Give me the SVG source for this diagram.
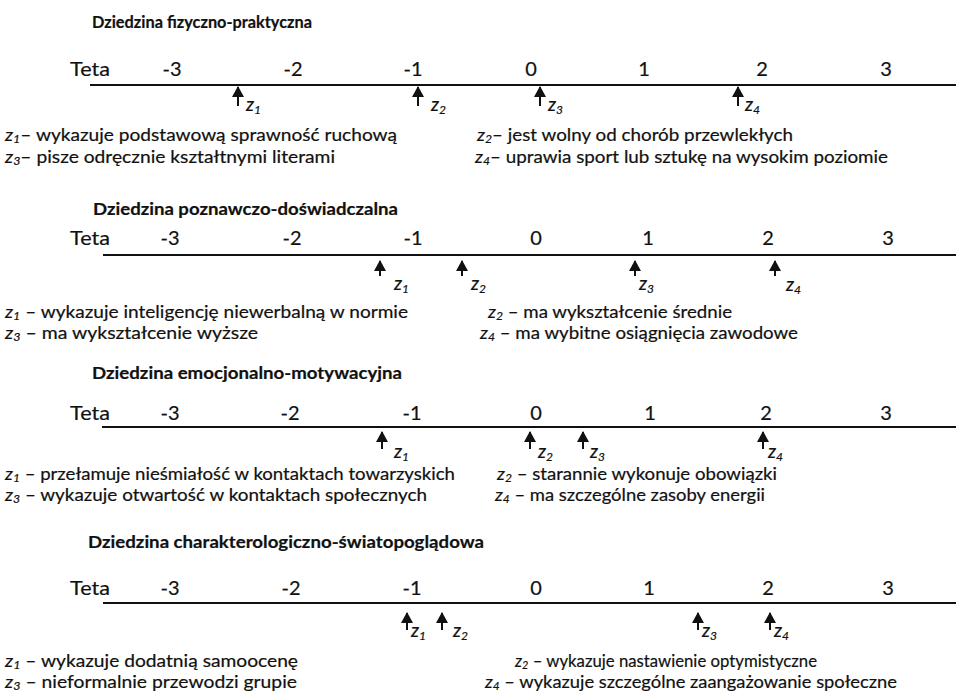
<svg xmlns="http://www.w3.org/2000/svg" width="956" height="693" viewBox="0 0 956 693">
<defs>
<style>
text{font-family:Lato,"Open Sans","Liberation Sans",sans-serif;fill:#111;stroke:#111;stroke-width:0.2px}
.t{font-size:17px;font-weight:bold}
.n{font-size:20px;text-anchor:middle}
.tt{font-size:20px}
.d{font-size:17px}
.i{font-style:italic}
.s{font-style:italic;font-size:11px}
.zl{font-size:19px;font-style:italic}
.zs{font-size:12px;font-style:italic}
.ax{stroke:#111;stroke-width:2;fill:none}
.ar{stroke:#111;stroke-width:2;fill:none}
</style>
<marker id="ah" viewBox="0 0 11 12" refX="10" refY="6" markerWidth="11" markerHeight="12" markerUnits="userSpaceOnUse" orient="auto"><path d="M0,0 L11,6 L0,12 z" fill="#111"/></marker>
</defs>
<rect width="956" height="693" fill="#fff"/>

<g id="connectors">
<line class="ax" x1="90" y1="85" x2="956" y2="85"/>
<line class="ar" x1="238" y1="106" x2="238" y2="87" marker-end="url(#ah)"/>
<line class="ar" x1="418" y1="106" x2="418" y2="87" marker-end="url(#ah)"/>
<line class="ar" x1="540" y1="106" x2="540" y2="87" marker-end="url(#ah)"/>
<line class="ar" x1="738" y1="106" x2="738" y2="87" marker-end="url(#ah)"/>

<line class="ax" x1="103" y1="255" x2="956" y2="255"/>
<line class="ar" x1="380" y1="276" x2="380" y2="261" marker-end="url(#ah)"/>
<line class="ar" x1="462" y1="276" x2="462" y2="261" marker-end="url(#ah)"/>
<line class="ar" x1="635" y1="276" x2="635" y2="261" marker-end="url(#ah)"/>
<line class="ar" x1="775" y1="276" x2="775" y2="261" marker-end="url(#ah)"/>

<line class="ax" x1="102" y1="427" x2="956" y2="427"/>
<line class="ar" x1="382" y1="449" x2="382" y2="432" marker-end="url(#ah)"/>
<line class="ar" x1="530" y1="449" x2="530" y2="432" marker-end="url(#ah)"/>
<line class="ar" x1="583" y1="449" x2="583" y2="432" marker-end="url(#ah)"/>
<line class="ar" x1="763" y1="449" x2="763" y2="432" marker-end="url(#ah)"/>

<line class="ax" x1="103" y1="603" x2="956" y2="603"/>
<line class="ar" x1="407" y1="630" x2="407" y2="613" marker-end="url(#ah)"/>
<line class="ar" x1="442" y1="630" x2="442" y2="613" marker-end="url(#ah)"/>
<line class="ar" x1="698" y1="630" x2="698" y2="613" marker-end="url(#ah)"/>
<line class="ar" x1="770" y1="630" x2="770" y2="613" marker-end="url(#ah)"/>
</g>

<g id="section1">
<text class="t" x="92" y="28" textLength="220" lengthAdjust="spacingAndGlyphs">Dziedzina fizyczno-praktyczna</text>
<text class="tt" x="70" y="76" textLength="40" lengthAdjust="spacingAndGlyphs">Teta</text>
<text class="n" x="172" y="76">-3</text>
<text class="n" x="293" y="76">-2</text>
<text class="n" x="413" y="76">-1</text>
<text class="n" x="531" y="76">0</text>
<text class="n" x="644" y="76">1</text>
<text class="n" x="762" y="76">2</text>
<text class="n" x="886" y="76">3</text>
<text class="zl" x="246" y="111">z<tspan class="zs" dy="3">1</tspan></text>
<text class="zl" x="431" y="111">z<tspan class="zs" dy="3">2</tspan></text>
<text class="zl" x="548" y="111">z<tspan class="zs" dy="3">3</tspan></text>
<text class="zl" x="745" y="111">z<tspan class="zs" dy="3">4</tspan></text>
<text class="d" x="5" y="141" textLength="392" lengthAdjust="spacingAndGlyphs"><tspan class="i">z</tspan><tspan class="s" dy="2">1</tspan><tspan dy="-2">– wykazuje podstawową sprawność ruchową</tspan></text>
<text class="d" x="5" y="163" textLength="330" lengthAdjust="spacingAndGlyphs"><tspan class="i">z</tspan><tspan class="s" dy="2">3</tspan><tspan dy="-2">– pisze odręcznie kształtnymi literami</tspan></text>
<text class="d" x="477" y="141" textLength="316" lengthAdjust="spacingAndGlyphs"><tspan class="i">z</tspan><tspan class="s" dy="2">2</tspan><tspan dy="-2">– jest wolny od chorób przewlekłych</tspan></text>
<text class="d" x="475" y="163" textLength="413" lengthAdjust="spacingAndGlyphs"><tspan class="i">z</tspan><tspan class="s" dy="2">4</tspan><tspan dy="-2">– uprawia sport lub sztukę na wysokim poziomie</tspan></text>
</g>

<g id="section2">
<text class="t" x="93" y="215" textLength="305" lengthAdjust="spacingAndGlyphs">Dziedzina poznawczo-doświadczalna</text>
<text class="tt" x="70" y="245" textLength="40" lengthAdjust="spacingAndGlyphs">Teta</text>
<text class="n" x="170" y="245">-3</text>
<text class="n" x="292" y="245">-2</text>
<text class="n" x="413" y="245">-1</text>
<text class="n" x="536" y="245">0</text>
<text class="n" x="648" y="245">1</text>
<text class="n" x="768" y="245">2</text>
<text class="n" x="888" y="245">3</text>
<text class="zl" x="394" y="290">z<tspan class="zs" dy="3">1</tspan></text>
<text class="zl" x="471" y="290">z<tspan class="zs" dy="3">2</tspan></text>
<text class="zl" x="639" y="290">z<tspan class="zs" dy="3">3</tspan></text>
<text class="zl" x="786" y="291">z<tspan class="zs" dy="3">4</tspan></text>
<text class="d" x="5" y="318" textLength="403" lengthAdjust="spacingAndGlyphs"><tspan class="i">z</tspan><tspan class="s" dy="2">1</tspan><tspan dy="-2"> – wykazuje inteligencję niewerbalną w normie</tspan></text>
<text class="d" x="5" y="339" textLength="253" lengthAdjust="spacingAndGlyphs"><tspan class="i">z</tspan><tspan class="s" dy="2">3</tspan><tspan dy="-2"> – ma wykształcenie wyższe</tspan></text>
<text class="d" x="488" y="318" textLength="244" lengthAdjust="spacingAndGlyphs"><tspan class="i">z</tspan><tspan class="s" dy="2">2</tspan><tspan dy="-2"> – ma wykształcenie średnie</tspan></text>
<text class="d" x="480" y="339" textLength="318" lengthAdjust="spacingAndGlyphs"><tspan class="i">z</tspan><tspan class="s" dy="2">4</tspan><tspan dy="-2"> – ma wybitne osiągnięcia zawodowe</tspan></text>
</g>

<g id="section3">
<text class="t" x="92" y="379" textLength="310" lengthAdjust="spacingAndGlyphs">Dziedzina emocjonalno-motywacyjna</text>
<text class="tt" x="70" y="420" textLength="40" lengthAdjust="spacingAndGlyphs">Teta</text>
<text class="n" x="170" y="420">-3</text>
<text class="n" x="290" y="420">-2</text>
<text class="n" x="412" y="420">-1</text>
<text class="n" x="536" y="420">0</text>
<text class="n" x="650" y="420">1</text>
<text class="n" x="766" y="420">2</text>
<text class="n" x="886" y="420">3</text>
<text class="zl" x="394" y="458">z<tspan class="zs" dy="3">1</tspan></text>
<text class="zl" x="538" y="458">z<tspan class="zs" dy="3">2</tspan></text>
<text class="zl" x="590" y="458">z<tspan class="zs" dy="3">3</tspan></text>
<text class="zl" x="768" y="458">z<tspan class="zs" dy="3">4</tspan></text>
<text class="d" x="5" y="480" textLength="450" lengthAdjust="spacingAndGlyphs"><tspan class="i">z</tspan><tspan class="s" dy="2">1</tspan><tspan dy="-2"> – przełamuje nieśmiałość w kontaktach towarzyskich</tspan></text>
<text class="d" x="5" y="501" textLength="422" lengthAdjust="spacingAndGlyphs"><tspan class="i">z</tspan><tspan class="s" dy="2">3</tspan><tspan dy="-2"> – wykazuje otwartość w kontaktach społecznych</tspan></text>
<text class="d" x="497" y="480" textLength="280" lengthAdjust="spacingAndGlyphs"><tspan class="i">z</tspan><tspan class="s" dy="2">2</tspan><tspan dy="-2"> – starannie wykonuje obowiązki</tspan></text>
<text class="d" x="495" y="501" textLength="270" lengthAdjust="spacingAndGlyphs"><tspan class="i">z</tspan><tspan class="s" dy="2">4</tspan><tspan dy="-2"> – ma szczególne zasoby energii</tspan></text>
</g>

<g id="section4">
<text class="t" x="88" y="548" textLength="396" lengthAdjust="spacingAndGlyphs">Dziedzina charakterologiczno-światopoglądowa</text>
<text class="tt" x="70" y="595" textLength="40" lengthAdjust="spacingAndGlyphs">Teta</text>
<text class="n" x="170" y="595">-3</text>
<text class="n" x="291" y="595">-2</text>
<text class="n" x="412" y="595">-1</text>
<text class="n" x="536" y="595">0</text>
<text class="n" x="649" y="595">1</text>
<text class="n" x="768" y="595">2</text>
<text class="n" x="888" y="595">3</text>
<text class="zl" x="411" y="637">z<tspan class="zs" dy="3">1</tspan></text>
<text class="zl" x="453" y="637">z<tspan class="zs" dy="3">2</tspan></text>
<text class="zl" x="702" y="637">z<tspan class="zs" dy="3">3</tspan></text>
<text class="zl" x="774" y="637">z<tspan class="zs" dy="3">4</tspan></text>
<text class="d" x="5" y="667" textLength="293" lengthAdjust="spacingAndGlyphs"><tspan class="i">z</tspan><tspan class="s" dy="2">1</tspan><tspan dy="-2"> – wykazuje dodatnią samoocenę</tspan></text>
<text class="d" x="5" y="688" textLength="292" lengthAdjust="spacingAndGlyphs"><tspan class="i">z</tspan><tspan class="s" dy="2">3</tspan><tspan dy="-2"> – nieformalnie przewodzi grupie</tspan></text>
<text class="d" x="515" y="667" textLength="302" lengthAdjust="spacingAndGlyphs"><tspan class="i">z</tspan><tspan class="s" dy="2">2</tspan><tspan dy="-2"> – wykazuje nastawienie optymistyczne</tspan></text>
<text class="d" x="485" y="688" textLength="412" lengthAdjust="spacingAndGlyphs"><tspan class="i">z</tspan><tspan class="s" dy="2">4</tspan><tspan dy="-2"> – wykazuje szczególne zaangażowanie społeczne</tspan></text>
</g>
</svg>
